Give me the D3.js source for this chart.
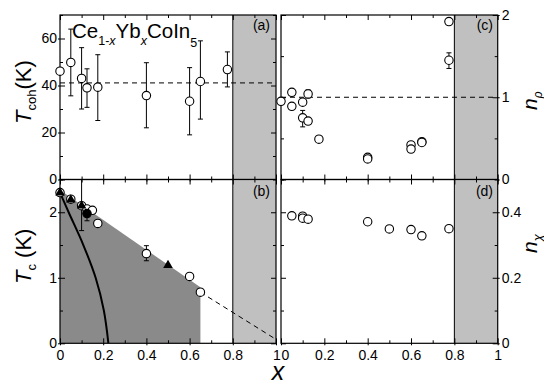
<!DOCTYPE html>
<html lang="en">
<head>
<meta charset="utf-8">
<title>CeYbCoIn5</title>
<script src="https://d3js.org/d3.v7.min.js"></script>
<style>
  body { margin: 0; background: #fff; }
  svg text { font-family: "Liberation Sans", Arial, sans-serif; }
</style>
</head>
<body>
<div id="chart"></div>
<script>
// ---- data ----
var xMajor = [0, 0.2, 0.4, 0.6, 0.8, 1];
var xMinor = [0.1, 0.3, 0.5, 0.7, 0.9];

// (a) coherence temperature
var tcohX  = [0, 0.05, 0.1, 0.125, 0.175, 0.4, 0.6, 0.65, 0.775];
var tcohY  = [46.1, 49.8, 43, 39, 39.3, 35.7, 33.3, 41.7, 46.8];
var tcohLo = [null, 35.6, 30, 30.7, 25.1, 22, 19, 25.7, 39.4];
var tcohHi = [null, 64, 56.1, 47.1, 53.1, 49.7, 47.6, 59, 54.3];
var tcohAvg = 41.1;

// (b) superconducting Tc
var tcOpenX  = [0, 0.05, 0.1, 0.125, 0.15, 0.175, 0.4, 0.6, 0.65];
var tcOpenY  = [2.3, 2.2, 2.1, 2.05, 2.03, 1.83, 1.37, 1.02, 0.78];
var tcOpenLo = [null, null, 1.72, null, null, null, 1.26, null, null];
var tcOpenHi = [null, null, 2.7, null, null, null, 1.49, null, null];
var tcTriX = [0, 0.05, 0.1, 0.5];
var tcTriY = [2.3, 2.19, 2.1, 1.19];
var tcDotX = [0.125];
var tcDotY = [1.98];
var tcDotLo = [1.87];
var tcDotHi = [2.08];
var scRegion = [[0, 2.34], [0.65, 0.855], [0.65, 0], [0, 0]];
var tcTrend = [[0.65, 0.78], [1, 0.06]];
var tcCurve = [[0, 2.3], [0.04, 2.0], [0.108, 1.5], [0.165, 1.0], [0.203, 0.5], [0.224, 0]];

// (c) resistivity exponent
var nRhoX  = [0, 0.05, 0.05, 0.1, 0.1, 0.125, 0.125, 0.175, 0.4, 0.4, 0.6, 0.6, 0.65, 0.65, 0.775, 0.775];
var nRhoY  = [0.95, 1.06, 0.89, 0.94, 0.75, 1.04, 0.71, 0.49, 0.27, 0.25, 0.42, 0.37, 0.46, 0.45, 1.92, 1.45];
var nRhoLo = [null, null, null, null, 0.64, 0.99, null, null, null, null, null, null, null, null, null, 1.35];
var nRhoHi = [null, null, null, null, 0.84, 1.09, null, null, null, null, null, null, null, null, null, 1.54];

// (d) susceptibility exponent
var nChiX = [0.05, 0.1, 0.1, 0.125, 0.4, 0.5, 0.6, 0.65, 0.775];
var nChiY = [0.389, 0.388, 0.382, 0.379, 0.371, 0.349, 0.347, 0.328, 0.35];

var grayFrom = 0.8;

// ---- layout ----
var width = 544, height = 385;
var svg = d3.select("#chart").append("svg")
    .attr("width", width).attr("height", height);

var colL = [60, 276], colR = [281, 497.7];
var rowT = [179.5, 15], rowB = [343.3, 179.5];

function makePanel(name, xr, yr, ydom, yMajor, yMinor, side, showX) {
  var x = d3.scaleLinear().domain([0, 1]).range(xr);
  var y = d3.scaleLinear().domain(ydom).range(yr);
  var g = svg.append("g");
  var clipId = "clip-" + name;
  svg.append("clipPath").attr("id", clipId).append("rect")
    .attr("x", xr[0]).attr("y", yr[1]).attr("width", xr[1] - xr[0]).attr("height", yr[0] - yr[1]);
  var body = g.append("g").attr("clip-path", "url(#" + clipId + ")");

  // gray region x > 0.8
  body.append("rect")
    .attr("x", x(grayFrom)).attr("y", yr[1])
    .attr("width", x(1) - x(grayFrom)).attr("height", yr[0] - yr[1])
    .attr("fill", "#c0c0c0");
  body.append("line")
    .attr("x1", x(grayFrom)).attr("x2", x(grayFrom))
    .attr("y1", yr[1]).attr("y2", yr[0])
    .attr("stroke", "#000").attr("stroke-width", 1);

  var axes = g.append("g");
  function style(sel) {
    sel.select(".domain").remove();
    sel.attr("font-family", null).attr("font-size", null);
    sel.selectAll("text").attr("font-size", 14).attr("fill", "#000");
    sel.selectAll("line").attr("stroke", "#000");
  }
  var fmt = d3.format("~g");
  // bottom / top
  var bx = axes.append("g").attr("transform", "translate(0," + yr[0] + ")")
    .call(d3.axisBottom(x).tickValues(xMajor).tickSize(-5).tickSizeOuter(0).tickPadding(7)
      .tickFormat(showX ? fmt : ""))
    .call(style);
  bx.selectAll("line").attr("y1", 2);
  // the "1" of the left column and the "0" of the right column sit together as "10"
  bx.selectAll("text").attr("dx", function (d) {
    if (side === "left" && d === 1) return 0.5;
    if (side === "right" && d === 0) return 4;
    return 0;
  });
  axes.append("g").attr("transform", "translate(0," + yr[0] + ")")
    .call(d3.axisBottom(x).tickValues(xMinor).tickSize(-3).tickSizeOuter(0).tickFormat(""))
    .call(style);
  axes.append("g").attr("transform", "translate(0," + yr[1] + ")")
    .call(d3.axisTop(x).tickValues(xMajor).tickSize(-5).tickSizeOuter(0).tickFormat(""))
    .call(style);
  axes.append("g").attr("transform", "translate(0," + yr[1] + ")")
    .call(d3.axisTop(x).tickValues(xMinor).tickSize(-3).tickSizeOuter(0).tickFormat(""))
    .call(style);
  // left / right
  var labL = side === "left", labR = side === "right";
  axes.append("g").attr("transform", "translate(" + xr[0] + ",0)")
    .call(d3.axisLeft(y).tickValues(yMajor).tickSize(-5).tickSizeOuter(0).tickPadding(3)
      .tickFormat(labL ? fmt : ""))
    .call(style).selectAll("line").attr("x1", labL ? -2 : 0);
  axes.append("g").attr("transform", "translate(" + xr[0] + ",0)")
    .call(d3.axisLeft(y).tickValues(yMinor).tickSize(-3).tickSizeOuter(0).tickFormat(""))
    .call(style);
  axes.append("g").attr("transform", "translate(" + xr[1] + ",0)")
    .call(d3.axisRight(y).tickValues(yMajor).tickSize(-5).tickSizeOuter(0).tickPadding(4)
      .tickFormat(labR ? fmt : ""))
    .call(style).selectAll("line").attr("x1", labR ? 2 : 0);
  axes.append("g").attr("transform", "translate(" + xr[1] + ",0)")
    .call(d3.axisRight(y).tickValues(yMinor).tickSize(-3).tickSizeOuter(0).tickFormat(""))
    .call(style);

  g.append("rect")
    .attr("x", xr[0]).attr("y", yr[1])
    .attr("width", xr[1] - xr[0]).attr("height", yr[0] - yr[1])
    .attr("fill", "none").attr("stroke", "#000").attr("stroke-width", 1.2);

  return { x: x, y: y, g: g, body: body };
}

function errorBars(p, xs, lo, hi) {
  xs.forEach(function (xv, i) {
    if (lo[i] == null) return;
    var cx = p.x(xv), y1 = p.y(lo[i]), y2 = p.y(hi[i]);
    p.body.append("line").attr("x1", cx).attr("x2", cx).attr("y1", y1).attr("y2", y2)
      .attr("stroke", "#000").attr("stroke-width", 1);
    [y1, y2].forEach(function (yy) {
      p.body.append("line").attr("x1", cx - 2.5).attr("x2", cx + 2.5).attr("y1", yy).attr("y2", yy)
        .attr("stroke", "#000").attr("stroke-width", 1);
    });
  });
}

function circles(p, xs, ys, filled) {
  p.g.append("g").selectAll("circle")
    .data(xs.map(function (d, i) { return [d, ys[i]]; }))
    .enter().append("circle")
    .attr("cx", function (d) { return p.x(d[0]); })
    .attr("cy", function (d) { return p.y(d[1]); })
    .attr("r", 4.2)
    .attr("fill", filled ? "#000" : "#fff")
    .attr("stroke", "#000").attr("stroke-width", 1.1);
}

function dashed(p, pts) {
  p.body.append("path")
    .attr("d", d3.line().x(function (d) { return p.x(d[0]); }).y(function (d) { return p.y(d[1]); })(pts))
    .attr("fill", "none").attr("stroke", "#000").attr("stroke-width", 1)
    .attr("stroke-dasharray", "5,4");
}

function panelLabel(p, txt, xr, yb) {
  svg.append("text").attr("x", xr).attr("y", yb).attr("text-anchor", "end")
    .attr("font-size", 14).text(txt);
}

// ---- (a) ----
var pa = makePanel("a", colL, rowT, [0, 70], [0, 20, 40, 60], [10, 30, 50, 70], "left", false);
dashed(pa, [[0, tcohAvg], [1, tcohAvg]]);
errorBars(pa, tcohX, tcohLo, tcohHi);
circles(pa, tcohX, tcohY, false);
panelLabel(pa, "(a)", 270, 30);

// ---- (b) ----
var pb = makePanel("b", colL, rowB, [0, 2.5], [0, 1, 2], [0.5, 1.5, 2.5], "left", true);
pb.body.insert("path", "line")
  .attr("d", d3.line().x(function (d) { return pb.x(d[0]); }).y(function (d) { return pb.y(d[1]); })(scRegion) + "Z")
  .attr("fill", "#8a8a8a");
dashed(pb, tcTrend);
pb.body.append("path")
  .attr("d", d3.line().curve(d3.curveCatmullRom)
    .x(function (d) { return pb.x(d[0]); }).y(function (d) { return pb.y(d[1]); })(tcCurve))
  .attr("fill", "none").attr("stroke", "#000").attr("stroke-width", 2);
errorBars(pb, tcOpenX, tcOpenLo, tcOpenHi);
errorBars(pb, tcDotX, tcDotLo, tcDotHi);
circles(pb, tcOpenX, tcOpenY, false);
pb.g.append("g").selectAll("path")
  .data(tcTriX.map(function (d, i) { return [d, tcTriY[i]]; }))
  .enter().append("path")
  .attr("transform", function (d) { return "translate(" + pb.x(d[0]) + "," + pb.y(d[1]) + ")"; })
  .attr("d", d3.symbol(d3.symbolTriangle, 40))
  .attr("fill", "#000");
circles(pb, tcDotX, tcDotY, true);
panelLabel(pb, "(b)", 270, 196);

// ---- (c) ----
var pc = makePanel("c", colR, rowT, [0, 2], [0, 1, 2], [0.5, 1.5], "right", false);
dashed(pc, [[0, 1], [1, 1]]);
errorBars(pc, nRhoX, nRhoLo, nRhoHi);
circles(pc, nRhoX, nRhoY, false);
panelLabel(pc, "(c)", 493, 30);

// ---- (d) ----
var pd = makePanel("d", colR, rowB, [0, 0.5], [0, 0.2, 0.4], [0.1, 0.3, 0.5], "right", true);
circles(pd, nChiX, nChiY, false);
panelLabel(pd, "(d)", 493, 196);

// ---- titles and axis names ----
var title = svg.append("text").attr("x", 72).attr("y", 38).attr("font-size", 20.5);
title.append("tspan").text("Ce");
title.append("tspan").attr("dy", 7).attr("font-size", 12.5).text("1-");
title.append("tspan").attr("font-size", 12.5).attr("font-style", "italic").text("x");
title.append("tspan").attr("dy", -7).text("Yb");
title.append("tspan").attr("dy", 7).attr("font-size", 12.5).attr("font-style", "italic").text("x");
title.append("tspan").attr("dy", -7).text("CoIn");
title.append("tspan").attr("dy", 9).attr("font-size", 12.5).text("5");

var yl1 = svg.append("text").attr("transform", "translate(31,124) rotate(-90)").attr("font-size", 22);
yl1.append("tspan").attr("font-style", "italic").text("T");
yl1.append("tspan").attr("dy", 5).attr("font-size", 13).text("coh");
yl1.append("tspan").attr("dy", -5).text("(K)");

var yl2 = svg.append("text").attr("transform", "translate(31,284) rotate(-90)").attr("font-size", 22);
yl2.append("tspan").attr("font-style", "italic").text("T");
yl2.append("tspan").attr("dy", 5).attr("font-size", 13).text("c");
yl2.append("tspan").attr("dy", -5).text(" (K)");

var yl3 = svg.append("text").attr("transform", "translate(537,110) rotate(-90)").attr("font-size", 21);
yl3.append("tspan").attr("font-style", "italic").text("n");
yl3.append("tspan").attr("dy", 5).attr("font-size", 12).attr("font-style", "italic").text("ρ");

var yl4 = svg.append("text").attr("transform", "translate(537,253) rotate(-90)").attr("font-size", 21);
yl4.append("tspan").attr("font-style", "italic").text("n");
yl4.append("tspan").attr("dy", 5).attr("font-size", 13).attr("font-style", "italic").text("χ");

svg.append("text").attr("x", 278).attr("y", 380).attr("text-anchor", "middle")
  .attr("font-size", 25).attr("font-style", "italic").text("x");
</script>
</body>
</html>
